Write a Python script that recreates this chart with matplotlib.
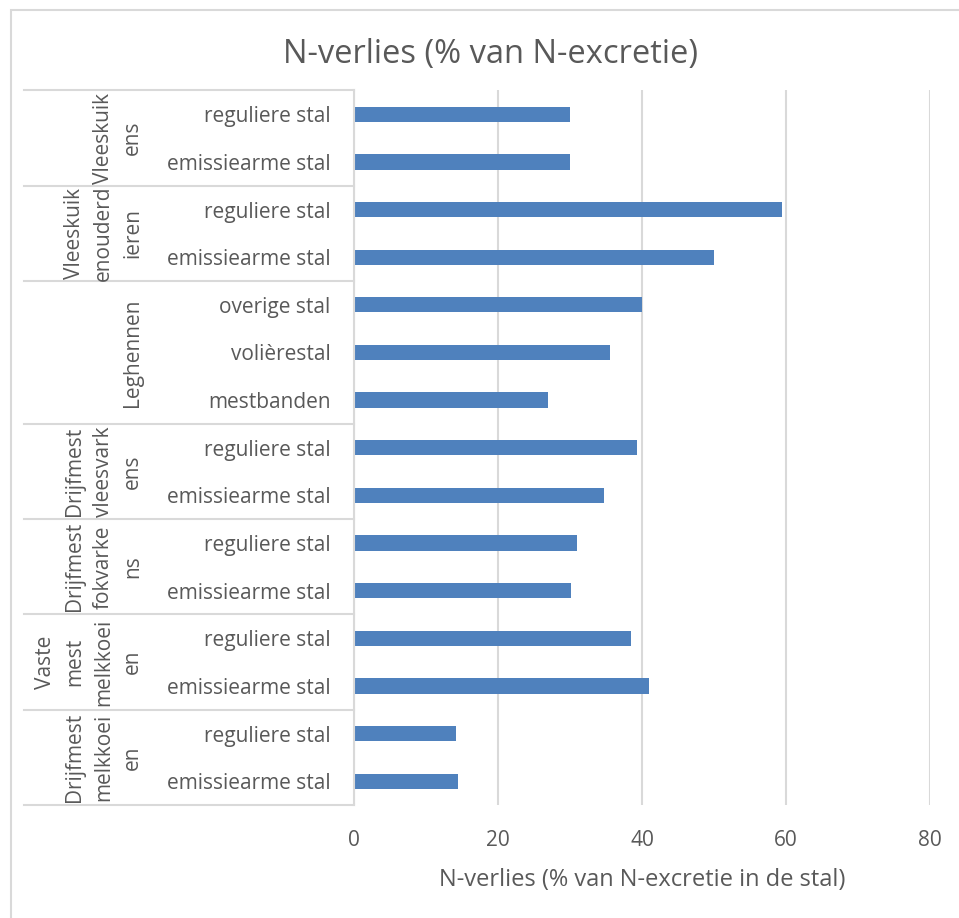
import matplotlib
matplotlib.use("Agg")
import matplotlib.pyplot as plt
from matplotlib.transforms import blended_transform_factory
from matplotlib.patches import Rectangle

plt.rcParams['font.family'] = ['Open Sans', 'DejaVu Sans']

groups = ["Vleeskuik\nens", "Vleeskuik\nenouderd\nieren", "Leghennen",
          "Drijfmest\nvleesvark\nens", "Drijfmest\nfokvarke\nns",
          "Vaste\nmest\nmelkkoei\nen", "Drijfmest\nmelkkoei\nen"]
group_sizes = [2, 2, 3, 2, 2, 2, 2]
categories = ["reguliere stal", "emissiearme stal",
              "reguliere stal", "emissiearme stal",
              "overige stal", "volièrestal", "mestbanden",
              "reguliere stal", "emissiearme stal",
              "reguliere stal", "emissiearme stal",
              "reguliere stal", "emissiearme stal",
              "reguliere stal", "emissiearme stal"]
values = [30.0, 30.0, 59.4, 50.0, 40.0, 35.6, 27.0, 39.3, 34.7,
          31.0, 30.2, 38.5, 41.0, 14.1, 14.5]
xticks = [0, 20, 40, 60, 80]

W, H = 959, 918
fig = plt.figure(figsize=(W / 100, H / 100), dpi=100)
L, R, T, B = 354, 930, 90.5, 805
ax = fig.add_axes([L / W, 1 - B / H, (R - L) / W, (B - T) / H])

txt = '#595959'
grid = '#D9D9D9'

n = len(categories)
ypos = list(range(n))
ax.barh(ypos, values, height=0.32, color='#4F81BD', zorder=3)
ax.set_ylim(n - 0.5, -0.5)
ax.set_xlim(0, 80)
ax.set_xticks(xticks)
ax.set_xticklabels([str(v) for v in xticks], fontsize=15, color=txt)
ax.set_yticks(ypos)
ax.set_yticklabels(categories, fontsize=15, color=txt)
ax.tick_params(axis='y', length=0, pad=17)
ax.tick_params(axis='x', length=0, pad=18)
ax.grid(axis='x', color=grid, linewidth=1.5, zorder=0)
for s in ['top', 'right', 'bottom']:
    ax.spines[s].set_visible(False)
ax.spines['left'].set_color(grid)
ax.spines['left'].set_linewidth(1.5)
ax.spines['left'].set_zorder(4)

ax.set_xlabel("N-verlies (% van N-excretie in de stal)", fontsize=17,
              color=txt, labelpad=12)
fig.text(490 / W, 1 - 54 / H, "N-verlies (% van N-excretie)",
         ha='center', va='center', fontsize=23.5, color=txt)

# group separators and labels
tr = blended_transform_factory(fig.transFigure, ax.transData)
start = -0.5
bounds = [start]
for sz in group_sizes:
    start += sz
    bounds.append(start)
for b in bounds:
    ax.plot([24 / W, L / W], [b, b], transform=tr, color=grid,
            linewidth=1.5, clip_on=False, zorder=2)
for g, b0, b1 in zip(groups, bounds[:-1], bounds[1:]):
    ax.text(143 / W, (b0 + b1) / 2, g, transform=tr, rotation=90,
            ha='right', va='center', multialignment='center',
            fontsize=15, color=txt, linespacing=1.5)

# outer border (left and top visible)
fig.patches.append(Rectangle((11 / W, -0.1), 1.2, 1 - 10.5 / H + 0.1,
                             transform=fig.transFigure, fill=False,
                             edgecolor=grid, linewidth=1.5))

fig.savefig("out.png", dpi=100, facecolor='white')
